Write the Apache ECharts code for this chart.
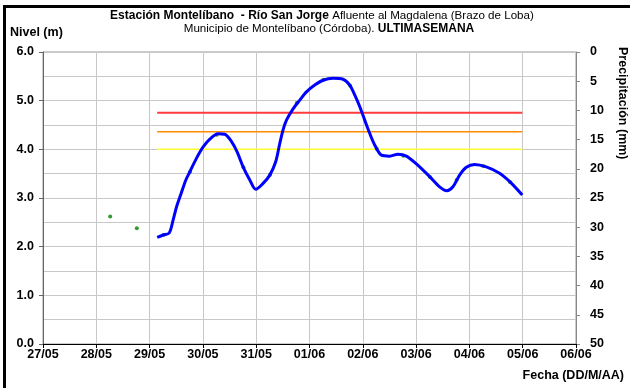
<!DOCTYPE html>
<html>
<head>
<meta charset="utf-8">
<script src="https://cdn.jsdelivr.net/npm/echarts@6/dist/echarts.min.js"></script>
<style>
html,body{margin:0;padding:0;background:#fff;overflow:hidden;}
#frame{position:absolute;left:3px;top:5px;width:700px;height:500px;border-left:3px solid #000;border-top:3px solid #000;}
#chart{position:absolute;left:0;top:0;width:630px;height:388px;}
</style>
</head>
<body>
<div id="frame"></div>
<div id="chart"></div>
<script>
// x values: days since 27/05 (0 = 27/05 00:00)
var dateLabels = ['27/05','28/05','29/05','30/05','31/05','01/06','02/06','03/06','04/06','05/06','06/06'];
var levelDays = [2.142,2.255,2.367,2.442,2.506,2.581,2.680,2.755,2.881,3.005,3.130,3.286,3.411,3.537,3.642,3.754,3.880,3.992,4.129,4.255,4.367,4.442,4.504,4.568,4.692,4.817,4.943,5.098,5.254,5.441,5.629,5.754,5.848,5.942,6.036,6.129,6.223,6.349,6.504,6.660,6.817,7.005,7.254,7.441,7.578,7.691,7.816,7.942,8.097,8.317,8.566,8.753,8.992];
var levelValues = [2.19,2.24,2.28,2.55,2.82,3.06,3.37,3.54,3.82,4.05,4.21,4.32,4.31,4.16,3.95,3.64,3.37,3.18,3.30,3.47,3.75,4.12,4.40,4.60,4.83,5.01,5.18,5.32,5.42,5.46,5.44,5.32,5.12,4.88,4.60,4.33,4.09,3.88,3.86,3.90,3.86,3.70,3.44,3.23,3.15,3.23,3.47,3.63,3.69,3.64,3.51,3.34,3.06];
var obsDays = [1.26,1.76,2.26,2.76,3.26,3.76,4.26,4.76,5.26,5.76,6.26,6.76,7.26,7.76,8.26,8.76];
var obsValues = [2.62,2.38,2.24,3.54,4.30,3.63,3.48,4.95,5.43,5.31,4.01,3.87,3.43,3.37,3.66,3.33];
var alertNames = ['Roja','Naranja','Amarilla'];
var alertValues = [4.75,4.36,4.00];
var alertColors = ['#ff3b3b','#ff8c00','#ffff33'];
var rightTicks = [0,5,10,15,20,25,30,35,40,45,50];

var chart = echarts.init(document.getElementById('chart'), null, {renderer:'canvas'});
var FF = '"Liberation Sans", Arial, sans-serif';
var BS = 12.5; // bold label size
var TB = 12;   // bold title size
var TN = 11.6; // normal title size
var startDay = levelDays[0], endDay = levelDays[levelDays.length-1];

var series = [];
alertValues.forEach(function(v,i){
  series.push({
    name: alertNames[i], type:'line', xAxisIndex:0, yAxisIndex:0,
    data:[[startDay,v],[endDay,v]], showSymbol:false, silent:true,
    lineStyle:{color:alertColors[i], width: i===0?2:1.5}, z:2
  });
});
series.push({
  name:'Obs', type:'scatter', xAxisIndex:0, yAxisIndex:0,
  data: obsDays.map(function(d,i){return [d,obsValues[i]];}),
  symbolSize:4, itemStyle:{color:'#008000'}, z:3
});
series.push({
  name:'Nivel', type:'line', xAxisIndex:0, yAxisIndex:0,
  data: levelDays.map(function(d,i){return [d,levelValues[i]];}),
  smooth:0.3, showSymbol:false, lineStyle:{color:'#0000ff', width:3}, z:4
});

chart.setOption({
  animation:false,
  backgroundColor:'transparent',
  grid:{left:43,right:54,top:52,bottom:44,show:true,borderColor:'#999',borderWidth:1},
  xAxis:[{
    type:'value', min:0, max:10, interval:1,
    axisLine:{show:true,onZero:false,lineStyle:{color:'#000',width:1}},
    axisTick:{show:true,length:4,lineStyle:{color:'#000'}},
    axisLabel:{formatter:function(v){return dateLabels[Math.round(v)];},color:'#000',fontWeight:'bold',fontSize:BS,fontFamily:FF,margin:4},
    splitLine:{show:true,lineStyle:{color:'#c8c8c8',width:1}}
  }],
  yAxis:[{
    type:'value', min:0, max:6, interval:1, position:'left',
    axisLine:{show:true,lineStyle:{color:'#666',width:1}},
    axisTick:{show:true,length:4,lineStyle:{color:'#666'}},
    axisLabel:{formatter:function(v){return v.toFixed(1);},color:'#000',fontWeight:'bold',fontSize:BS,fontFamily:FF,margin:9},
    splitLine:{show:true,lineStyle:{color:'#c8c8c8',width:1}},
    minorTick:{show:false,splitNumber:2},
    minorSplitLine:{show:true,lineStyle:{color:'#c8c8c8',width:1}}
  },{
    type:'value', min:0, max:50, interval:5, position:'right', inverse:true,
    axisLine:{show:true,lineStyle:{color:'#888',width:1}},
    axisTick:{show:true,length:4,lineStyle:{color:'#888'}},
    axisLabel:{formatter:function(v){return rightTicks.indexOf(v)>=0?String(v):'';},color:'#000',fontWeight:'bold',fontSize:BS,fontFamily:FF,margin:14},
    splitLine:{show:false}
  }],
  graphic:[
    {type:'text',x:322,y:16,style:{
      rich:{b:{fontWeight:'bold',fontSize:TB,fontFamily:FF,fill:'#000'},n:{fontSize:TN,fontFamily:FF,fill:'#000'}},
      text:'{b|Estación Montelíbano  - Río San Jorge} {n|Afluente al Magdalena (Brazo de Loba)}',
      textAlign:'center',textVerticalAlign:'middle'}},
    {type:'text',x:329,y:29,style:{
      rich:{b:{fontWeight:'bold',fontSize:TB,fontFamily:FF,fill:'#000'},n:{fontSize:TN,fontFamily:FF,fill:'#000'}},
      text:'{n|Municipio de Montelíbano (Córdoba).} {b|ULTIMASEMANA}',
      textAlign:'center',textVerticalAlign:'middle'}},
    {type:'text',x:10,y:33,style:{text:'Nivel (m)',fontWeight:'bold',fontSize:BS,fontFamily:FF,fill:'#000',textAlign:'left',textVerticalAlign:'middle'}},
    {type:'text',x:622,y:47,rotation:-Math.PI/2,style:{text:'Precipitación (mm)',fontWeight:'bold',fontSize:BS,fontFamily:FF,fill:'#000',textAlign:'left',textVerticalAlign:'middle'}},
    {type:'text',x:624,y:376,style:{text:'Fecha (DD/M/AA)',fontWeight:'bold',fontSize:BS,fontFamily:FF,fill:'#000',textAlign:'right',textVerticalAlign:'middle'}}
  ],
  series:series
});
</script>
</body>
</html>
